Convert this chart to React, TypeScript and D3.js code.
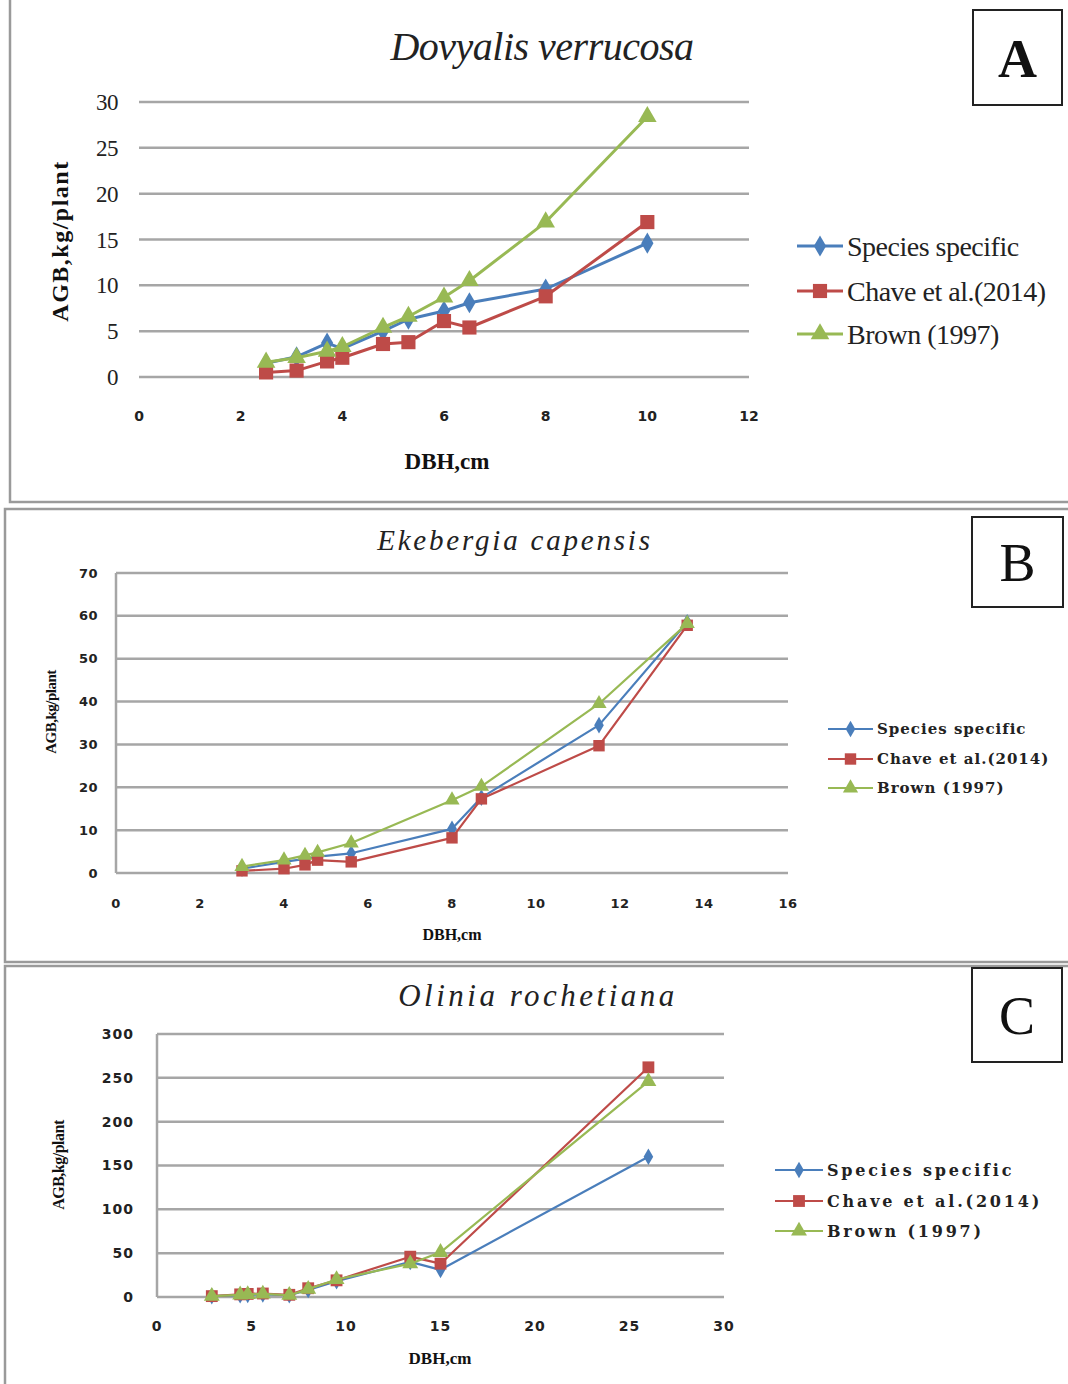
import React from "react";
import * as d3 from "d3";

// series shared by all three panels
const seriesNames = ["Species specific", "Chave et al.(2014)", "Brown (1997)"];
const seriesColors = ["#4a7ebb", "#be4b48", "#98b954"];
const seriesSymbols = [d3.symbolDiamond, d3.symbolSquare, d3.symbolTriangle];

// Panel A - Dovyalis verrucosa
const dbhA = [2.5, 3.1, 3.7, 4.0, 4.8, 5.3, 6.0, 6.5, 8.0, 10.0];
const speciesA = [1.5, 2.2, 3.7, 3.1, 5.0, 6.3, 7.2, 8.1, 9.6, 14.6];
const chaveA = [0.5, 0.7, 1.7, 2.1, 3.6, 3.8, 6.1, 5.4, 8.8, 16.9];
const brownA = [1.6, 2.1, 2.8, 3.3, 5.4, 6.6, 8.7, 10.5, 16.9, 28.4];
const xTicksA = [0, 2, 4, 6, 8, 10, 12];
const yTicksA = [0, 5, 10, 15, 20, 25, 30];

// Panel B - Ekebergia capensis
const dbhB = [3.0, 4.0, 4.5, 4.8, 5.6, 8.0, 8.7, 11.5, 13.6];
const speciesB = [1.0, 2.6, 3.3, 3.8, 4.6, 10.3, 17.6, 34.5, 58.5];
const chaveB = [0.5, 1.0, 1.9, 3.0, 2.6, 8.2, 17.3, 29.7, 57.8];
const brownB = [1.5, 3.0, 4.1, 4.8, 7.0, 17.0, 20.2, 39.5, 58.2];
const xTicksB = [0, 2, 4, 6, 8, 10, 12, 14, 16];
const yTicksB = [0, 10, 20, 30, 40, 50, 60, 70];

// Panel C - Olinia rochetiana
const dbhC = [2.9, 4.4, 4.8, 5.6, 7.0, 8.0, 9.5, 13.4, 15.0, 26.0];
const speciesC = [1, 2, 2.5, 3, 2, 8, 18, 40, 31, 160];
const chaveC = [1, 3, 3.5, 4, 2.5, 10, 19, 46, 38, 262];
const brownC = [1, 2.5, 3, 3.5, 2, 9, 20, 38, 51, 246];
const xTicksC = [0, 5, 10, 15, 20, 25, 30];
const yTicksC = [0, 50, 100, 150, 200, 250, 300];

type FontSpec = { family: string; size: number; weight: string; spacing: number };

type PanelProps = {
  box: [number, number, number, number];
  letter: string;
  letterBold: boolean;
  letterBox: [number, number, number, number];
  title: string;
  titleX: number;
  titleY: number;
  titleSize: number;
  titleSpacing: number;
  plot: [number, number, number, number]; // left, top, right, bottom
  dbh: number[];
  values: number[][];
  xTicks: number[];
  yTicks: number[];
  yTickFont: FontSpec;
  xTickFont: FontSpec;
  yTickX: number;
  xTickY: number;
  showYAxisLine: boolean;
  xTitleX: number;
  xTitleY: number;
  xTitleSize: number;
  yTitleX: number;
  yTitleY: number;
  yTitleSize: number;
  yTitleSpacing: number;
  legendX: number;
  legendYs: number[];
  legendLine: number;
  legendFont: FontSpec;
  lineWidth: number;
  markerSizes: number[];
};

function Panel(p: PanelProps) {
  const [l, t, r, b] = p.plot;
  const x = d3.scaleLinear().domain([p.xTicks[0], p.xTicks[p.xTicks.length - 1]]).range([l, r]);
  const y = d3.scaleLinear().domain([p.yTicks[0], p.yTicks[p.yTicks.length - 1]]).range([b, t]);
  const line = d3.line<[number, number]>().x(d => x(d[0])).y(d => y(d[1]));
  const yf = p.yTickFont, xf = p.xTickFont, lf = p.legendFont;

  return (
    <g>
      <rect x={p.box[0]} y={p.box[1]} width={p.box[2]} height={p.box[3]} fill="#fff" stroke="#9a9a9a" strokeWidth={2.5} />
      <rect x={p.letterBox[0]} y={p.letterBox[1]} width={p.letterBox[2]} height={p.letterBox[3]} fill="#fff" stroke="#222" strokeWidth={2} />
      <text
        x={p.letterBox[0] + p.letterBox[2] / 2}
        y={p.letterBox[1] + p.letterBox[3] / 2 + 19}
        textAnchor="middle"
        fontFamily="Liberation Serif"
        fontSize={54}
        fontWeight={p.letterBold ? "bold" : "normal"}
        fill="#111"
      >{p.letter}</text>

      <text x={p.titleX} y={p.titleY} textAnchor="middle" fontFamily="Liberation Serif" fontStyle="italic"
        fontSize={p.titleSize} letterSpacing={p.titleSpacing} fill="#222">{p.title}</text>

      {p.yTicks.map(v => (
        <line key={"g" + v} x1={l} x2={r} y1={y(v)} y2={y(v)} stroke="#a6a6a6" strokeWidth={2.5} />
      ))}
      {p.showYAxisLine && <line x1={l} x2={l} y1={t} y2={b} stroke="#a6a6a6" strokeWidth={2.5} />}

      {p.yTicks.map(v => (
        <text key={"yt" + v} x={p.yTickX} y={y(v) + yf.size * 0.35} textAnchor="end" fontFamily={yf.family}
          fontSize={yf.size} fontWeight={yf.weight} letterSpacing={yf.spacing} fill="#222">{v}</text>
      ))}
      {p.xTicks.map(v => (
        <text key={"xt" + v} x={x(v)} y={p.xTickY} textAnchor="middle" fontFamily={xf.family}
          fontSize={xf.size} fontWeight={xf.weight} letterSpacing={xf.spacing} fill="#222">{v}</text>
      ))}

      <text x={p.xTitleX} y={p.xTitleY} textAnchor="middle" fontFamily="Liberation Serif" fontWeight="bold"
        fontSize={p.xTitleSize} fill="#111">DBH,cm</text>
      <text transform={`translate(${p.yTitleX},${p.yTitleY}) rotate(-90)`} textAnchor="middle" fontFamily="Liberation Serif"
        fontWeight="bold" fontSize={p.yTitleSize} letterSpacing={p.yTitleSpacing} fill="#111">AGB,kg/plant</text>

      {p.values.map((vals, i) => {
        const pts = p.dbh.map((d, j) => [d, vals[j]] as [number, number]);
        const sym = d3.symbol(seriesSymbols[i], p.markerSizes[i]);
        return (
          <g key={"s" + i}>
            <path d={line(pts) || ""} fill="none" stroke={seriesColors[i]} strokeWidth={p.lineWidth} strokeLinejoin="round" />
            {pts.map((pt, j) => (
              <path key={j} d={sym() || ""} transform={`translate(${x(pt[0])},${y(pt[1])})`} fill={seriesColors[i]} />
            ))}
          </g>
        );
      })}

      {seriesNames.map((name, i) => {
        const ly = p.legendYs[i];
        const sym = d3.symbol(seriesSymbols[i], p.markerSizes[i]);
        return (
          <g key={"lg" + i}>
            <line x1={p.legendX} x2={p.legendX + p.legendLine} y1={ly} y2={ly} stroke={seriesColors[i]} strokeWidth={p.lineWidth} />
            <path d={sym() || ""} transform={`translate(${p.legendX + p.legendLine / 2},${ly})`} fill={seriesColors[i]} />
            <text x={p.legendX + p.legendLine + 4} y={ly + lf.size * 0.35} fontFamily={lf.family}
              fontSize={lf.size} fontWeight={lf.weight} letterSpacing={lf.spacing} fill="#222">{name}</text>
          </g>
        );
      })}
    </g>
  );
}

export default function App() {
  const smallBold: FontSpec = { family: "DejaVu Sans", size: 13, weight: "bold", spacing: 0.5 };
  return (
    <svg width={1068} height={1384} style={{ position: "absolute", left: 0, top: 0, background: "#fff" }}>
      <Panel
        box={[10, -2, 1060, 504]}
        letter="A" letterBold={true} letterBox={[973, 10, 89, 95]}
        title="Dovyalis verrucosa" titleX={542} titleY={60} titleSize={40} titleSpacing={-0.5}
        plot={[139, 102, 749, 377]}
        dbh={dbhA} values={[speciesA, chaveA, brownA]}
        xTicks={xTicksA} yTicks={yTicksA}
        yTickFont={{ family: "Liberation Serif", size: 23, weight: "normal", spacing: -0.5 }}
        xTickFont={{ family: "DejaVu Sans", size: 14, weight: "bold", spacing: 0 }}
        yTickX={118} xTickY={421} showYAxisLine={false}
        xTitleX={447} xTitleY={469} xTitleSize={23}
        yTitleX={68} yTitleY={241} yTitleSize={24} yTitleSpacing={1.5}
        legendX={797} legendYs={[246, 291, 334]} legendLine={46}
        legendFont={{ family: "Liberation Serif", size: 28, weight: "normal", spacing: -0.5 }}
        lineWidth={3} markerSizes={[130, 200, 150]}
      />
      <Panel
        box={[5, 509, 1068, 453]}
        letter="B" letterBold={false} letterBox={[972, 517, 91, 90]}
        title="Ekebergia capensis" titleX={515} titleY={550} titleSize={29} titleSpacing={2.8}
        plot={[116, 573, 788, 873]}
        dbh={dbhB} values={[speciesB, chaveB, brownB]}
        xTicks={xTicksB} yTicks={yTicksB}
        yTickFont={smallBold} xTickFont={smallBold}
        yTickX={98} xTickY={908} showYAxisLine={true}
        xTitleX={452} xTitleY={940} xTitleSize={16}
        yTitleX={56} yTitleY={712} yTitleSize={15} yTitleSpacing={-0.5}
        legendX={828} legendYs={[729, 759, 788]} legendLine={45}
        legendFont={{ family: "DejaVu Serif", size: 15, weight: "bold", spacing: 1 }}
        lineWidth={2.2} markerSizes={[80, 130, 100]}
      />
      <Panel
        box={[5, 966, 1068, 430]}
        letter="C" letterBold={false} letterBox={[972, 968, 90, 94]}
        title="Olinia rochetiana" titleX={538} titleY={1006} titleSize={31} titleSpacing={3.5}
        plot={[157, 1034, 724, 1297]}
        dbh={dbhC} values={[speciesC, chaveC, brownC]}
        xTicks={xTicksC} yTicks={yTicksC}
        yTickFont={{ family: "DejaVu Sans", size: 14, weight: "bold", spacing: 1 }}
        xTickFont={{ family: "DejaVu Sans", size: 14, weight: "bold", spacing: 1 }}
        yTickX={134} xTickY={1331} showYAxisLine={true}
        xTitleX={440} xTitleY={1364} xTitleSize={17}
        yTitleX={64} yTitleY={1165} yTitleSize={16} yTitleSpacing={-0.5}
        legendX={775} legendYs={[1170, 1201, 1231]} legendLine={48}
        legendFont={{ family: "DejaVu Serif", size: 16, weight: "bold", spacing: 2.8 }}
        lineWidth={2.2} markerSizes={[80, 140, 110]}
      />
    </svg>
  );
}
